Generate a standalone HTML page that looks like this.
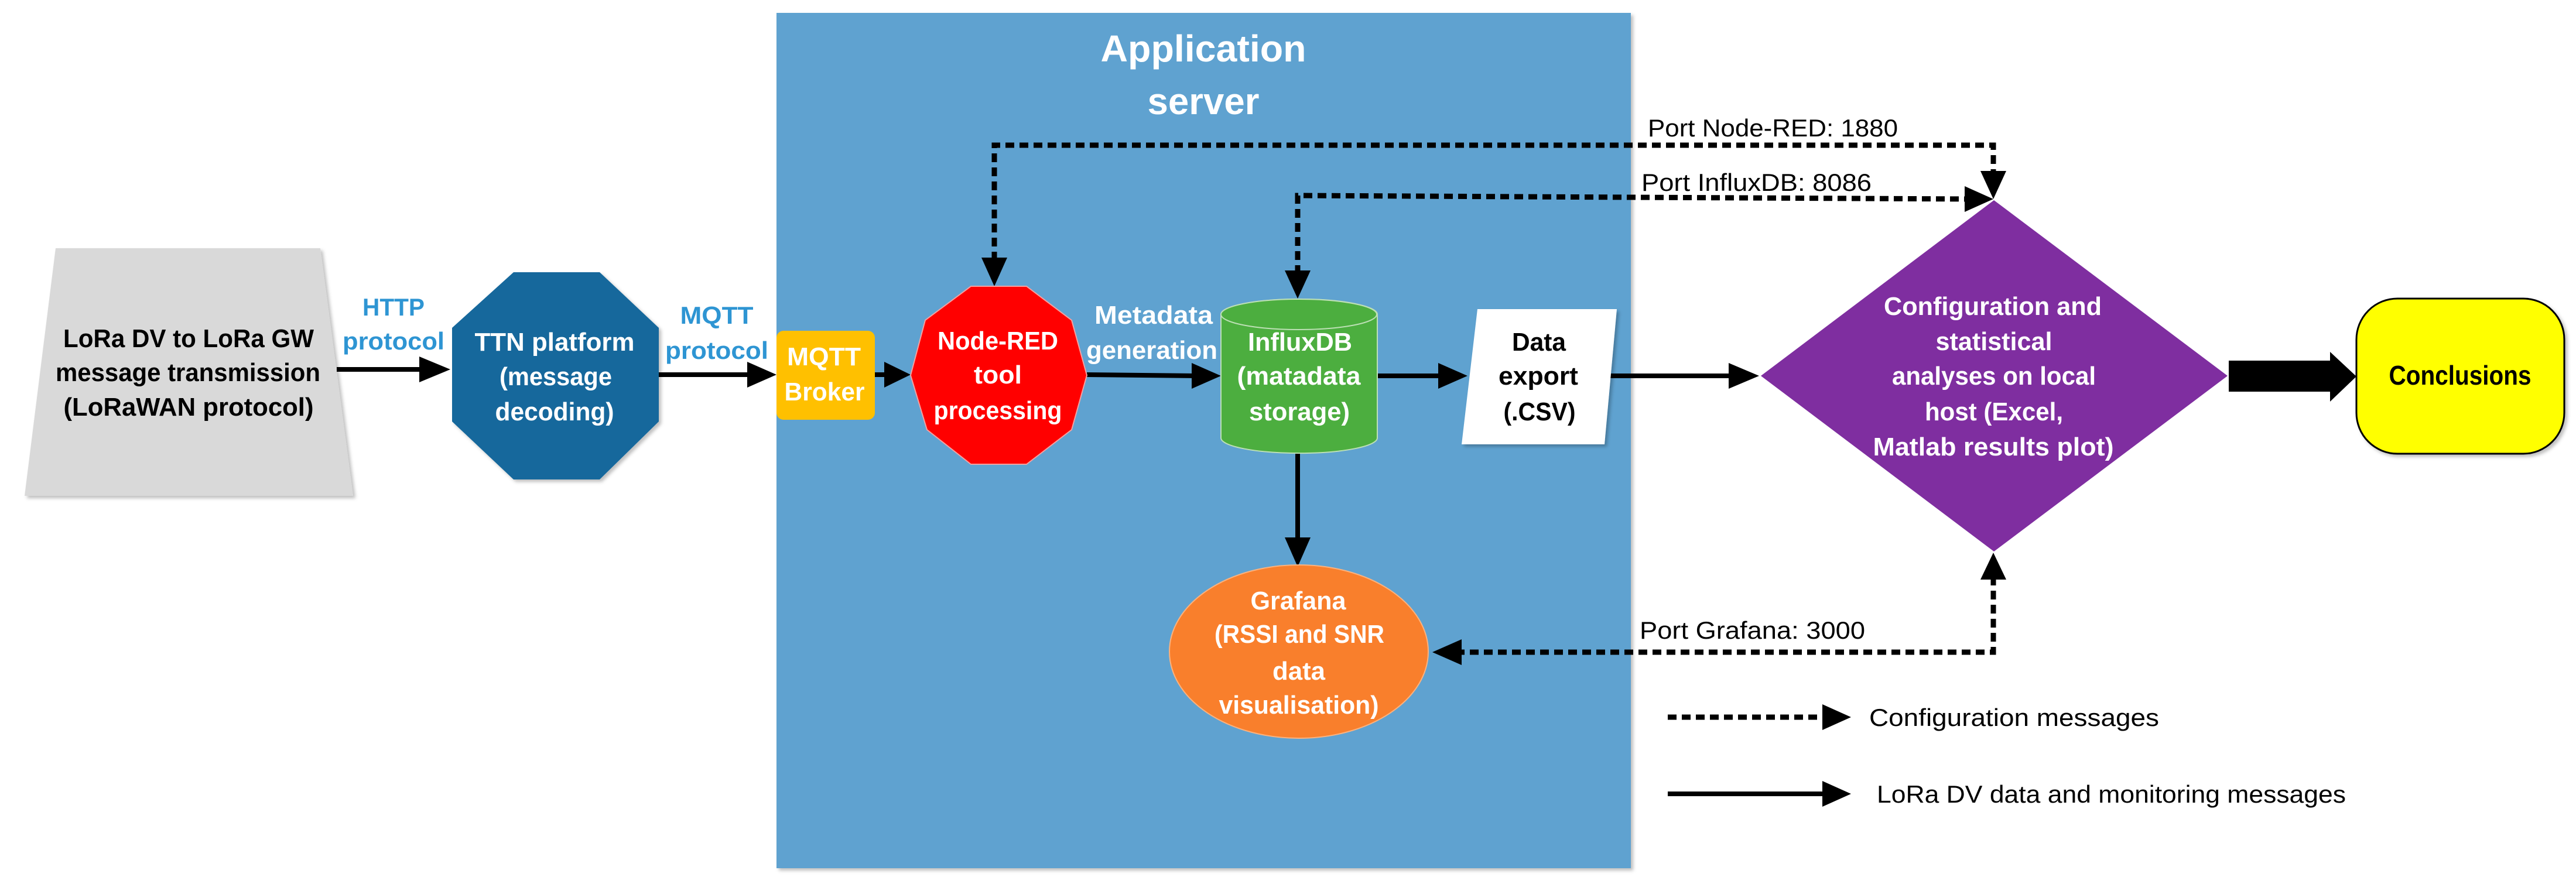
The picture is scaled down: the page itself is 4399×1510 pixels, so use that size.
<!DOCTYPE html>
<html><head><meta charset="utf-8"><style>
html,body{margin:0;padding:0;background:#fff;}
svg{display:block;}
text{font-family:"Liberation Sans Narrow","Liberation Sans",sans-serif;}
.b{font-weight:bold;}
</style></head><body>
<svg width="4399" height="1510" viewBox="0 0 4399 1510" xmlns="http://www.w3.org/2000/svg">
<defs>
<filter id="sh" x="-10%" y="-10%" width="130%" height="130%"><feDropShadow dx="4" dy="4" stdDeviation="3" flood-color="#000" flood-opacity="0.25"/></filter>
</defs>
<rect x="0" y="0" width="4399" height="1510" fill="#fff"/>
<!-- Application server box -->
<rect x="1326" y="22" width="1459" height="1461" fill="#5fa2d0" filter="url(#sh)"/>
<text x="2055" y="105" font-size="64" fill="#fff" class="b" text-anchor="middle" textLength="351" lengthAdjust="spacingAndGlyphs">Application</text>
<text x="2055" y="195" font-size="64" fill="#fff" class="b" text-anchor="middle" textLength="191" lengthAdjust="spacingAndGlyphs">server</text>

<!-- Trapezoid -->
<polygon points="95,424 547,424 603,847 42,847" fill="#d9d9d9" filter="url(#sh)"/>
<g font-size="44" class="b" fill="#000" text-anchor="middle">
<text x="322" y="593" textLength="428" lengthAdjust="spacingAndGlyphs">LoRa DV to LoRa GW</text>
<text x="321" y="651" textLength="452" lengthAdjust="spacingAndGlyphs">message transmission</text>
<text x="322" y="710" textLength="427" lengthAdjust="spacingAndGlyphs">(LoRaWAN protocol)</text>
</g>
<!-- HTTP -->
<g font-size="42" class="b" fill="#2e95d3" text-anchor="middle">
<text x="672" y="539" textLength="106" lengthAdjust="spacingAndGlyphs">HTTP</text>
<text x="672" y="597" textLength="174" lengthAdjust="spacingAndGlyphs">protocol</text>
<text x="1224" y="553" textLength="125" lengthAdjust="spacingAndGlyphs">MQTT</text>
<text x="1224" y="613" textLength="176" lengthAdjust="spacingAndGlyphs">protocol</text>
</g>
<!-- solid arrows -->
<g stroke="#000" stroke-width="8" fill="none">
<line x1="575" y1="631" x2="725" y2="631"/>
<line x1="1125" y1="640" x2="1285" y2="640"/>
<line x1="1494" y1="640" x2="1515" y2="640"/>
<line x1="1856" y1="640" x2="2040" y2="642"/>
<line x1="2352" y1="642" x2="2465" y2="642"/>
<line x1="2747" y1="642" x2="2960" y2="642"/>
<line x1="2216" y1="774" x2="2216" y2="925"/>
<line x1="2848" y1="1356" x2="3120" y2="1356"/>
</g>
<g fill="#000">
<polygon points="716,609 769,631 716,653"/>
<polygon points="1276,618 1326,640 1276,662"/>
<polygon points="1510,618 1555,640 1510,662"/>
<polygon points="2035,620 2085,642 2035,664"/>
<polygon points="2456,620 2506,642 2456,664"/>
<polygon points="2952,620 3004,642 2952,664"/>
<polygon points="2194,918 2216,968 2238,918"/>
<polygon points="3112,1334 3161,1356 3112,1378"/>
<!-- dashed arrowheads -->
<polygon points="1676,440 1698,489 1720,440"/>
<polygon points="2194,462 2216,510 2238,462"/>
<polygon points="3382,292 3404,340 3426,292"/>
<polygon points="3355,318 3404,340 3355,362"/>
<polygon points="3382,990 3404,944 3426,990"/>
<polygon points="2496,1092 2446,1114 2496,1136"/>
<polygon points="3112,1203 3161,1225 3112,1247"/>
<!-- big block arrow -->
<polygon points="3806,616 3979,616 3979,601 4024,643 3979,686 3979,669 3806,669"/>
</g>
<!-- dashed lines -->
<g stroke="#000" stroke-width="9" fill="none" stroke-dasharray="15 9">
<polyline points="1698,445 1698,248 3404,248 3404,298"/>
<polyline points="2216,468 2216,334 3360,340"/>
<polyline points="3404,985 3404,1114 2490,1114"/>
<line x1="2848" y1="1225" x2="3115" y2="1225"/>
</g>
<!-- TTN octagon -->
<polygon points="877,465 1024,465 1125,560 1125,720 1024,819 877,819 772,720 772,560" fill="#15689c" filter="url(#sh)"/>
<g font-size="44" class="b" fill="#fff" text-anchor="middle">
<text x="947" y="599" textLength="273" lengthAdjust="spacingAndGlyphs">TTN platform</text>
<text x="949" y="658" textLength="192" lengthAdjust="spacingAndGlyphs">(message</text>
<text x="947" y="718" textLength="203" lengthAdjust="spacingAndGlyphs">decoding)</text>
</g>
<!-- MQTT broker -->
<rect x="1326" y="565" width="168" height="152" rx="12" fill="#ffc000"/>
<g font-size="44" class="b" fill="#fff" text-anchor="middle">
<text x="1407" y="624" textLength="126" lengthAdjust="spacingAndGlyphs">MQTT</text>
<text x="1408" y="684" textLength="137" lengthAdjust="spacingAndGlyphs">Broker</text>
</g>
<!-- Node-RED -->
<polygon points="1658,489 1753,489 1830,547 1856,641 1830,734 1753,793 1658,793 1583,734 1555,641 1580,547" fill="#ff0000" stroke="#f4a0a0" stroke-width="2"/>
<g font-size="44" class="b" fill="#fff" text-anchor="middle">
<text x="1704" y="597" textLength="206" lengthAdjust="spacingAndGlyphs">Node-RED</text>
<text x="1704" y="655" textLength="82" lengthAdjust="spacingAndGlyphs">tool</text>
<text x="1704" y="716" textLength="219" lengthAdjust="spacingAndGlyphs">processing</text>
<text x="1970" y="553" textLength="202" lengthAdjust="spacingAndGlyphs">Metadata</text>
<text x="1967" y="613" textLength="224" lengthAdjust="spacingAndGlyphs">generation</text>
</g>
<!-- Cylinder -->
<path d="M2085,537 L2085,748 A133,26 0 0 0 2352,748 L2352,537 A133,26 0 0 0 2085,537 Z" fill="#4cae3f" stroke="#bde0b5" stroke-width="2"/>
<ellipse cx="2218" cy="537" rx="133" ry="26" fill="#4cae3f" stroke="#bde0b5" stroke-width="2"/>
<g font-size="44" class="b" fill="#fff" text-anchor="middle">
<text x="2220" y="599" textLength="178" lengthAdjust="spacingAndGlyphs">InfluxDB</text>
<text x="2218" y="657" textLength="211" lengthAdjust="spacingAndGlyphs">(matadata</text>
<text x="2219" y="718" textLength="172" lengthAdjust="spacingAndGlyphs">storage)</text>
</g>
<!-- Data export -->
<polygon points="2523,528 2761,528 2740,759 2496,759" fill="#fff" filter="url(#sh)"/>
<g font-size="44" class="b" fill="#000" text-anchor="middle">
<text x="2628" y="599" textLength="92" lengthAdjust="spacingAndGlyphs">Data</text>
<text x="2627" y="657" textLength="136" lengthAdjust="spacingAndGlyphs">export</text>
<text x="2629" y="718" textLength="123" lengthAdjust="spacingAndGlyphs">(.CSV)</text>
</g>
<!-- Grafana -->
<ellipse cx="2218" cy="1113" rx="221" ry="148" fill="#f97f2c" stroke="#fbb27e" stroke-width="2"/>
<g font-size="44" class="b" fill="#fff" text-anchor="middle">
<text x="2217" y="1041" textLength="163" lengthAdjust="spacingAndGlyphs">Grafana</text>
<text x="2219" y="1098" textLength="290" lengthAdjust="spacingAndGlyphs">(RSSI and SNR</text>
<text x="2218" y="1161" textLength="90" lengthAdjust="spacingAndGlyphs">data</text>
<text x="2218" y="1219" textLength="273" lengthAdjust="spacingAndGlyphs">visualisation)</text>
</g>
<!-- Diamond -->
<polygon points="3405,342 3804,642 3405,942 3007,642" fill="#7f2ea0"/>
<g font-size="44" class="b" fill="#fff" text-anchor="middle">
<text x="3403" y="538" textLength="372" lengthAdjust="spacingAndGlyphs">Configuration and</text>
<text x="3405" y="598" textLength="199" lengthAdjust="spacingAndGlyphs">statistical</text>
<text x="3405" y="657" textLength="348" lengthAdjust="spacingAndGlyphs">analyses on local</text>
<text x="3405" y="718" textLength="236" lengthAdjust="spacingAndGlyphs">host (Excel,</text>
<text x="3404" y="778" textLength="411" lengthAdjust="spacingAndGlyphs">Matlab results plot)</text>
</g>
<!-- Conclusions -->
<rect x="4024" y="510" width="355" height="265" rx="70" fill="#ffff00" stroke="#000" stroke-width="3" filter="url(#sh)"/>
<text x="4201" y="657" font-size="46" class="b" fill="#000" text-anchor="middle" textLength="243" lengthAdjust="spacingAndGlyphs">Conclusions</text>
<!-- port labels -->
<g font-size="42" fill="#000">
<text x="2814" y="233" textLength="427" lengthAdjust="spacingAndGlyphs">Port Node-RED: 1880</text>
<text x="2803" y="326" textLength="393" lengthAdjust="spacingAndGlyphs">Port InfluxDB: 8086</text>
<text x="2800" y="1091" textLength="385" lengthAdjust="spacingAndGlyphs">Port Grafana: 3000</text>
<text x="3192" y="1240" textLength="495" lengthAdjust="spacingAndGlyphs">Configuration  messages</text>
<text x="3205" y="1371" textLength="801" lengthAdjust="spacingAndGlyphs">LoRa DV data and monitoring messages</text>
</g>
</svg>
</body></html>
